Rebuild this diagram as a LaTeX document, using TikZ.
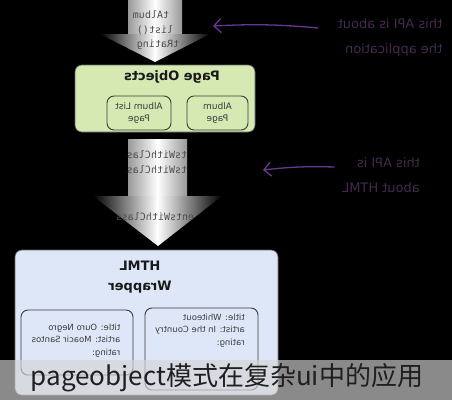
\documentclass[tikz,border=0pt]{standalone}
\usepackage{fontspec}
\usepackage{graphicx}
\usetikzlibrary{arrows.meta}

\newfontfamily\boxfont{DejaVu Sans}
\newfontfamily\codefont{DejaVu Sans Mono}
\newfontfamily\capfont{Noto Sans CJK SC}

\definecolor{pogreen}{HTML}{D6E9B2}
\definecolor{wrapblue}{HTML}{DEE7F7}
\definecolor{notepurple}{HTML}{45294F}
\definecolor{arrowpurple}{HTML}{6B3692}
\definecolor{inkgray}{HTML}{3A3A3A}
\definecolor{bandgray}{HTML}{D4D4D4}

% mirrored text blocks, as the picture shows them
\newcommand{\flipl}[1]{\reflectbox{\begin{tabular}{@{}l@{}}#1\end{tabular}}}
\newcommand{\flipc}[1]{\reflectbox{\begin{tabular}{@{}c@{}}#1\end{tabular}}}

\tikzset{
  bigbox/.style={draw=black!60, line width=0.6pt, rounded corners=7pt},
  smallbox/.style={draw=inkgray, line width=0.9pt, rounded corners=7pt},
  boxtitle/.style={font=\boxfont\bfseries\fontsize{13}{20}\selectfont, text=black!90},
  boxtext/.style={font=\boxfont\fontsize{8.5}{12.5}\selectfont, text=inkgray},
  codetext/.style={font=\codefont\fontsize{10}{11}\selectfont, text=black!70, inner sep=0pt},
  note/.style={font=\boxfont\fontsize{13}{25}\selectfont, text=notepurple},
  notearrow/.style={draw=arrowpurple, line width=1.3pt, -{Straight Barb[length=7pt,width=14pt]}},
}

\begin{document}
\begin{tikzpicture}[x=1pt, y=-1pt]

  % Bounding box of the scheme
  \fill[black] (0,0) rectangle (452,400);
  \useasboundingbox (0,0) rectangle (452,400);

  %%%%%%%%%%%%%%%%%%%%%%%%%%%%%%%%% Big arrows %%%%%%%%%%%%%%%%%%%%%%%%%%%%%%%%%%%%
  % top arrow
  \shade[left color=gray!80, right color=gray!80, middle color=white] (128,0) rectangle (182,34);
  \shade[left color=black, right color=black, middle color=white] (100,34) -- (210,34) -- (155,62) -- cycle;

  % middle arrow
  \shade[left color=gray!80, right color=gray!80, middle color=white] (128,139) rectangle (187,196);
  \shade[left color=black, right color=black, middle color=white] (93,196) -- (222,196) -- (158,246) -- cycle;

  % calls written on the arrows
  \draw (151,15) node[codetext] (c1) {\reflectbox{tAlbum}} ;
  \draw (155,30) node[codetext] (c2) {\reflectbox{list()}} ;
  \draw (158,45) node[codetext] (c3) {\reflectbox{tRating}} ;
  \draw (157,155) node[codetext] (c4) {\reflectbox{tsWithClas}} ;
  \draw (157,170) node[codetext] (c5) {\reflectbox{tsWithClas}} ;
  \draw (155,217) node[codetext] (c6) {\reflectbox{entsWithClass}} ;

  %%%%%%%%%%%%%%%%%%%%%%%%%%%%%%%%% Page Objects %%%%%%%%%%%%%%%%%%%%%%%%%%%%%%%%%%%%
  \draw (165,98.5) node[bigbox, fill=pogreen, minimum width=180pt, minimum height=67pt] (po) {} ;
  \draw (172,77) node[boxtitle] (potitle) {\reflectbox{Page Objects}} ;

  \draw (139,113) node[smallbox, minimum width=64pt, minimum height=34pt] (alp) {} ;
  \draw (217.5,113) node[smallbox, minimum width=61pt, minimum height=34pt] (ap) {} ;
  \draw (alp) node[boxtext, font=\boxfont\fontsize{9}{12}\selectfont] {\flipc{Album List\\Page}} ;
  \draw (ap) node[boxtext, font=\boxfont\fontsize{9}{12}\selectfont] {\flipc{Album\\Page}} ;

  %%%%%%%%%%%%%%%%%%%%%%%%%%%%%%%%% HTML Wrapper %%%%%%%%%%%%%%%%%%%%%%%%%%%%%%%%%%%%
  \draw (146.5,322.5) node[bigbox, fill=wrapblue, minimum width=263pt, minimum height=145pt] (wrap) {} ;
  \draw (140,276) node[boxtitle] (wraptitle) {\flipc{HTML\\Wrapper}} ;

  \draw (77,342.5) node[smallbox, minimum width=112pt, minimum height=65pt] (rec1) {} ;
  \draw (201.5,349) node[smallbox, minimum width=113pt, minimum height=82pt] (rec2) {} ;
  \draw (76,340) node[boxtext] {\flipl{title: Ouro Negro\\artist: Moacir Santos\\rating:}} ;
  \draw (200,330) node[boxtext] {\flipl{title: Whiteout\\artist: In the Country\\rating:}} ;

  %%%%%%%%%%%%%%%%%%%%%%%%%%%%%%%%% Notes %%%%%%%%%%%%%%%%%%%%%%%%%%%%%%%%%%%%
  \draw (390,36) node[note] (api1) {\flipl{this API is about\\the application}} ;
  \draw (381,175) node[note] (api2) {\flipl{this API is\\about HTML}} ;

  \coordinate (tip1) at (213,26) ;
  \coordinate (tip2) at (263,170) ;

  \draw[notearrow] ([xshift=-16pt, yshift=8pt]api1.west) to[bend right=4] (tip1) ;
  \draw[notearrow] ([xshift=-4pt, yshift=8pt]api2.west) to[bend right=4] (tip2) ;

  %%%%%%%%%%%%%%%%%%%%%%%%%%%%%%%%% Caption %%%%%%%%%%%%%%%%%%%%%%%%%%%%%%%%%%%%
  \fill[bandgray, opacity=0.65] (0,360) rectangle (452,400);
  \draw (227,378) node[font=\capfont\fontsize{26}{30}\selectfont, text=black!88] (cap) {pageobject模式在复杂ui中的应用} ;

\end{tikzpicture}
\end{document}
